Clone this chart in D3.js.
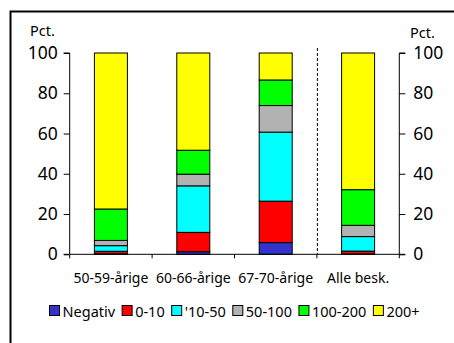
<!DOCTYPE html>
<html>
<head>
<meta charset="utf-8">
<script src="https://cdn.jsdelivr.net/npm/d3@7"></script>
<style>
  html, body { margin: 0; padding: 0; background: #fff; }
  svg { display: block; font-family: "Noto Sans", sans-serif; }
</style>
</head>
<body>
<svg id="chart" width="454" height="343"></svg>
<script>
// Age groups on the x axis
const categories = ["50-59-årige", "60-66-årige", "67-70-årige", "Alle besk."];
// Wealth brackets (stack order, bottom to top)
const seriesNames = ["Negativ", "0-10", "'10-50", "50-100", "100-200", "200+"];
const seriesColors = ["#3333CC", "#FF0000", "#00FFFF", "#B2B2B2", "#00FF00", "#FFFF00"];
// Percentage share per bracket, one array per age group
const negativ   = [0.3, 1.3, 5.8, 0.2];
const nul10     = [1.2, 9.6, 20.6, 1.4];
const ti50      = [2.8, 23.1, 34.3, 7.2];
const femti100  = [2.6, 5.8, 13.2, 5.6];
const hundre200 = [15.6, 11.9, 12.7, 17.7];
const over200   = [77.5, 48.3, 13.4, 67.9];
const yTicks = [0, 20, 40, 60, 80, 100];

const seriesValues = [negativ, nul10, ti50, femti100, hundre200, over200];
const rows = categories.map((c, i) => {
  const r = { cat: c };
  seriesNames.forEach((s, j) => r[s] = seriesValues[j][i]);
  return r;
});

const svg = d3.select("#chart");
const plotLeft = 69.7, plotRight = 399.3, plotTop = 53, plotBottom = 254.3;

// Frame around the chart area
svg.append("path")
  .attr("d", `M10.5,343 V11.5 H454`)
  .attr("fill", "none").attr("stroke", "#000").attr("stroke-width", 2);

const xb = d3.scaleBand().domain(categories).range([plotLeft, plotRight]);
const y = d3.scaleLinear().domain([0, 100]).range([plotBottom, plotTop]);

const stack = d3.stack().keys(seriesNames)(rows);

// Dashed separator before the overall total
svg.append("line")
  .attr("x1", xb("Alle besk.") + 0.5).attr("x2", xb("Alle besk.") + 0.5)
  .attr("y1", plotTop - 5).attr("y2", plotBottom)
  .attr("stroke", "#000").attr("stroke-width", 1).attr("stroke-dasharray", "3,2");

// Stacked bars
svg.append("g").selectAll("g").data(stack).join("g")
  .attr("fill", (d, i) => seriesColors[i])
  .selectAll("rect").data(d => d).join("rect")
  .attr("x", d => xb(d.data.cat) + xb.bandwidth() / 2 - 16.5)
  .attr("width", 33)
  .attr("y", d => y(d[1]))
  .attr("height", d => y(d[0]) - y(d[1]))
  .attr("stroke", "#000").attr("stroke-width", 1);

// Left and right value axes
const yl = svg.append("g").attr("transform", `translate(${plotLeft},0)`)
  .call(d3.axisLeft(y).tickValues(yTicks).tickSize(6).tickPadding(6));
const yr = svg.append("g").attr("transform", `translate(${plotRight},0)`)
  .call(d3.axisRight(y).tickValues(yTicks).tickSize(6).tickPadding(8));
yl.select(".domain").attr("d", `M-6,${plotTop}H0V${plotBottom}H-6`);
yr.select(".domain").attr("d", `M6,${plotTop}H0V${plotBottom}H6`);
[yl, yr].forEach(g => {
  g.selectAll("text").attr("font-size", 17.5).attr("font-family", "Noto Sans").attr("fill", "#000");
  g.selectAll("line").attr("stroke", "#000");
  g.selectAll(".domain").attr("stroke", "#000");
});

// Bottom axis: ticks at band boundaries, labels centred on bands
const xAxisG = svg.append("g");
xAxisG.append("line").attr("x1", plotLeft).attr("x2", plotRight)
  .attr("y1", plotBottom).attr("y2", plotBottom).attr("stroke", "#000");
const bounds = categories.map(c => xb(c)).concat([plotRight]);
xAxisG.selectAll("line.tk").data(bounds).join("line").attr("class", "tk")
  .attr("x1", d => d).attr("x2", d => d).attr("y1", plotBottom).attr("y2", plotBottom + 4).attr("stroke", "#000");
xAxisG.selectAll("text").data(categories).join("text")
  .attr("x", d => xb(d) + xb.bandwidth() / 2).attr("y", 283)
  .attr("text-anchor", "middle").attr("font-size", 14).text(d => d);

// Unit labels
svg.append("text").attr("x", 30).attr("y", 36).attr("font-size", 14.5).text("Pct.");
svg.append("text").attr("x", 410).attr("y", 38).attr("font-size", 14.5).text("Pct.");

// Legend
const legend = svg.append("g");
let lx = 0;
seriesNames.forEach((s, i) => {
  const g = legend.append("g").attr("transform", `translate(${lx},0)`);
  g.append("rect").attr("x", 0.5).attr("y", -5.5).attr("width", 10).attr("height", 10)
    .attr("fill", seriesColors[i]).attr("stroke", "#000").attr("stroke-width", 1);
  const t = g.append("text").attr("x", 13.5).attr("y", 5.5).attr("font-size", 14.5).text(s);
  lx += 13.5 + t.node().getComputedTextLength() + 6.5;
});
lx -= 6.5;
legend.attr("transform", `translate(${(51 + 417.6) / 2 - lx / 2},311)`);
</script>
</body>
</html>
